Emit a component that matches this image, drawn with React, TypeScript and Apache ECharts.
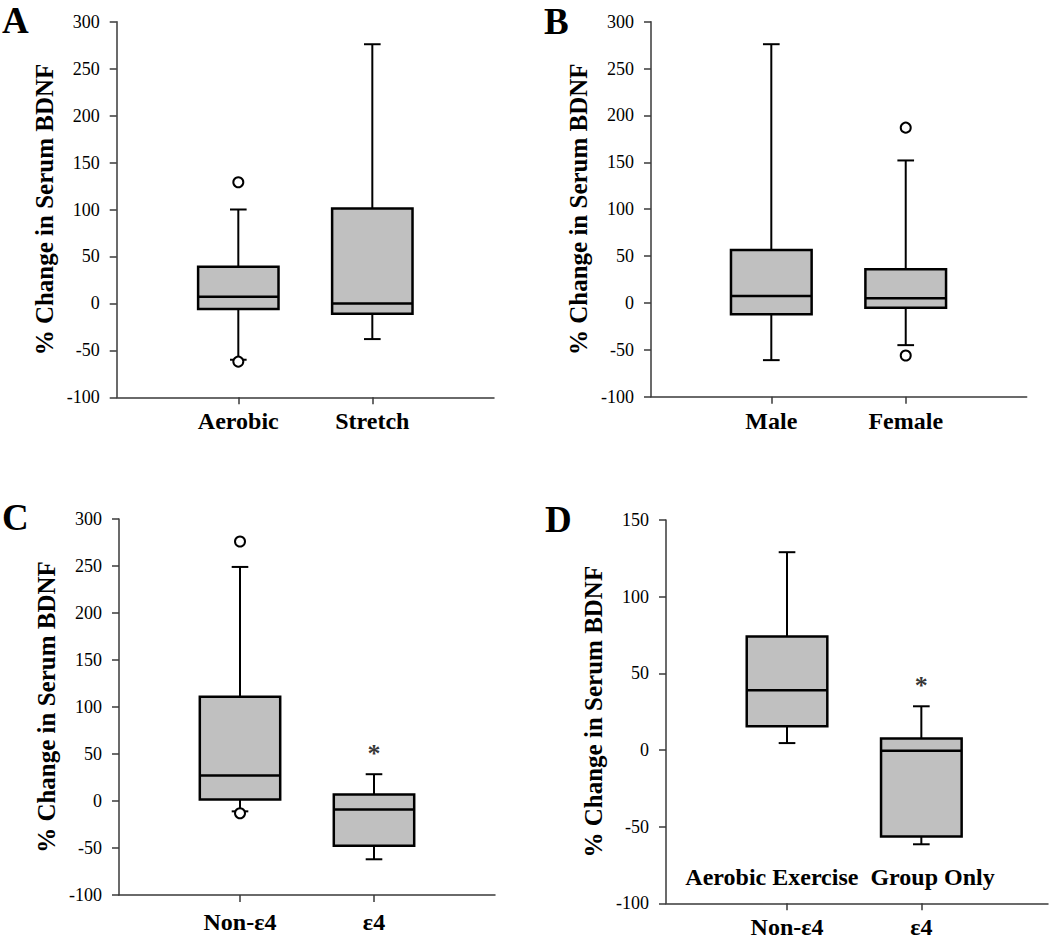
import React, { useEffect, useRef } from 'react';
import * as echarts from 'echarts';

const FONT = "'Liberation Serif', 'Times New Roman', Times, serif";

// ---------- data ----------
// each box: [min whisker, Q1, median, Q3, max whisker]
const catsA = ['Aerobic', 'Stretch'];
const boxesA = [
  [-60, -6, 7, 39, 100],
  [-38, -11, 0, 101, 276],
];
const outliersA = [[1, 129], [1, -62]];

const catsB = ['Male', 'Female'];
const boxesB = [
  [-61, -12, 7.5, 56.5, 276],
  [-45, -5, 5, 36, 152],
];
const outliersB = [[2, 187], [2, -56]];

const catsC = ['Non-ε4', 'ε4'];
const boxesC = [
  [-11, 1.5, 27, 111, 249],
  [-62, -47.5, -9, 7, 28.5],
];
const outliersC = [[1, 276], [1, -13]];
const starsC = [[2, 52]];

const catsD = ['Non-ε4', 'ε4'];
const boxesD = [
  [4.5, 15.5, 39, 74, 129],
  [-61.5, -56.5, -0.5, 7.5, 28.5],
];
const outliersD: number[][] = [];
const starsD = [[2, 43]];

const yRangeABC = [-100, 300];
const yRangeD = [-100, 150];
const yStep = 50;

const panelLetters = ['A', 'B', 'C', 'D'];
const yTitle = '% Change in Serum BDNF';
const noteD = 'Aerobic Exercise  Group Only';

// ---------- layout ----------
const grids = [
  { left: 116.7, top: 21.7, width: 377.3, height: 375.6, xmin: 0.0925, xmax: 2.908, labelMargin: 12 },
  { left: 651, top: 21.7, width: 375.7, height: 375, xmin: 0.105, xmax: 2.9, labelMargin: 12 },
  { left: 119, top: 519, width: 376, height: 376, xmin: 0.097, xmax: 2.903, labelMargin: 15 },
  { left: 666, top: 520, width: 382, height: 383.3, xmin: 0.099, xmax: 2.943, labelMargin: 12 },
];

const panels = [
  { cats: catsA, boxes: boxesA, outliers: outliersA, stars: [] as number[][], range: yRangeABC },
  { cats: catsB, boxes: boxesB, outliers: outliersB, stars: [] as number[][], range: yRangeABC },
  { cats: catsC, boxes: boxesC, outliers: outliersC, stars: starsC, range: yRangeABC },
  { cats: catsD, boxes: boxesD, outliers: outliersD, stars: starsD, range: yRangeD },
];

const AXIS_COLOR = '#3a3a3a';

const renderBox = (_params: any, api: any) => {
  const x = api.value(0);
  const vals = [1, 2, 3, 4, 5].map((i) => api.value(i));
  const pts = vals.map((v) => api.coord([x, v]));
  const [pMin, pQ1, pMed, pQ3, pMax] = pts;
  const cx = pMed[0];
  const halfBox = api.size([0.3, 0])[0];
  const halfCap = api.size([0.062, 0])[0];
  const line = (x1: number, y1: number, x2: number, y2: number, w: number) => ({
    type: 'line',
    shape: { x1, y1, x2, y2 },
    style: { stroke: '#000', lineWidth: w },
  });
  return {
    type: 'group',
    children: [
      line(cx, pQ3[1], cx, pMax[1], 2),
      line(cx - halfCap, pMax[1], cx + halfCap, pMax[1], 2),
      line(cx, pQ1[1], cx, pMin[1], 2),
      line(cx - halfCap, pMin[1], cx + halfCap, pMin[1], 2),
      {
        type: 'rect',
        shape: { x: cx - halfBox, y: pQ3[1], width: 2 * halfBox, height: pQ1[1] - pQ3[1] },
        style: { fill: '#c0c0c0', stroke: '#000', lineWidth: 2.5 },
      },
      line(cx - halfBox, pMed[1], cx + halfBox, pMed[1], 2.5),
    ],
  };
};

export default function App() {
  const ref = useRef<HTMLDivElement>(null);

  useEffect(() => {
    if (!ref.current) return;
    const chart = echarts.init(ref.current, undefined, { renderer: 'svg' });

    const grid = grids.map((g) => ({
      left: g.left,
      top: g.top,
      width: g.width,
      height: g.height,
      containLabel: false,
      outerBoundsMode: 'none',
    }));

    const xAxis = panels.map((p, i) => ({
      type: 'value',
      gridIndex: i,
      min: grids[i].xmin,
      max: grids[i].xmax,
      splitLine: { show: false },
      axisLine: { show: true, onZero: false, lineStyle: { color: AXIS_COLOR, width: 1.5 } },
      axisTick: { show: true, customValues: [1, 2], length: 7, lineStyle: { color: AXIS_COLOR, width: 1.5 } },
      axisLabel: {
        customValues: [1, 2],
        formatter: (v: number) => p.cats[Math.round(v) - 1] ?? '',
        fontFamily: FONT,
        fontWeight: 'bold',
        fontSize: 24,
        color: '#000',
        margin: grids[i].labelMargin,
      },
    }));

    const yAxis = panels.map((p, i) => ({
      type: 'value',
      gridIndex: i,
      min: p.range[0],
      max: p.range[1],
      interval: yStep,
      splitLine: { show: false },
      axisLine: { show: true, onZero: false, lineStyle: { color: AXIS_COLOR, width: 1.5 } },
      axisTick: { show: true, length: 7, lineStyle: { color: AXIS_COLOR, width: 1.5 } },
      axisLabel: { fontFamily: FONT, fontSize: 18, color: '#000', margin: 17 },
      name: yTitle,
      nameLocation: 'middle',
      nameGap: 60,
      nameTextStyle: { fontFamily: FONT, fontWeight: 'bold', fontSize: 25, color: '#000' },
    }));

    const series: any[] = [];
    panels.forEach((p, i) => {
      series.push({
        type: 'custom',
        xAxisIndex: i,
        yAxisIndex: i,
        clip: false,
        renderItem: renderBox,
        encode: { x: 0, y: [1, 2, 3, 4, 5] },
        data: p.boxes.map((b, k) => [k + 1, ...b]),
        z: 2,
      });
      if (p.outliers.length) {
        series.push({
          type: 'scatter',
          xAxisIndex: i,
          yAxisIndex: i,
          symbol: 'circle',
          symbolSize: 10,
          itemStyle: { color: '#fff', borderColor: '#000', borderWidth: 2, opacity: 1 },
          data: p.outliers,
          z: 3,
        });
      }
      if (p.stars.length) {
        series.push({
          type: 'scatter',
          xAxisIndex: i,
          yAxisIndex: i,
          symbolSize: 1,
          itemStyle: { color: 'rgba(0,0,0,0)' },
          label: {
            show: true,
            position: 'inside',
            formatter: '*',
            fontFamily: FONT,
            fontWeight: 'bold',
            fontSize: 26,
            color: '#000',
            offset: [0, 1],
          },
          data: p.stars,
          z: 3,
        });
      }
    });

    const letterPos = [
      [2, 2],
      [544, 3],
      [2, 499],
      [545, 501],
    ];

    const graphic: any[] = panelLetters.map((l, i) => ({
      type: 'text',
      left: letterPos[i][0],
      top: letterPos[i][1],
      style: { text: l, font: `bold 37px ${FONT}`, fill: '#000' },
    }));
    graphic.push({
      type: 'text',
      x: 840,
      y: 877,
      style: {
        text: noteD,
        font: `bold 24px ${FONT}`,
        fill: '#000',
        textAlign: 'center',
        textVerticalAlign: 'middle',
      },
    });

    chart.setOption({
      animation: false,
      backgroundColor: '#fff',
      grid,
      xAxis,
      yAxis,
      series,
      graphic,
    });

    return () => chart.dispose();
  }, []);

  return <div ref={ref} style={{ position: 'absolute', left: 0, top: 0, width: 1050, height: 941 }} />;
}
